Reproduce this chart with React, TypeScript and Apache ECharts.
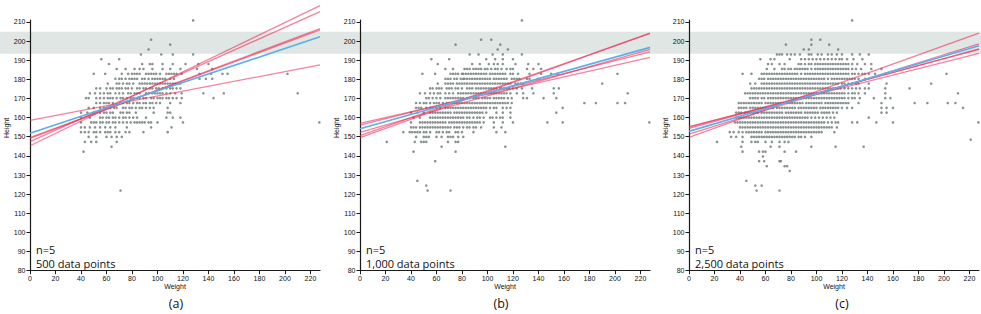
import React, { useEffect, useRef } from "react";
import * as echarts from "echarts";

// ---------- data (height cm -> list of weights kg) ----------
const X_MAX = 227.5;
const Y_MIN = 80;
const Y_MAX = 211;
const BAND = [193.4, 204.8];

const panelLetters = ["(a)", "(b)", "(c)"];
const pointLabels = ["500 data points", "1,000 data points", "2,500 data points"];
const nLabel = "n=5";

const rowsA: [number, number[]][] = [
  [210.8, [128]],
  [200.7, [95]],
  [198.1, [110]],
  [195.6, [93]],
  [193.0, [87, 103, 112, 128]],
  [190.5, [56, 70]],
  [188.0, [62, 88, 94, 96, 104, 112, 122, 132, 140]],
  [185.4, [68, 75, 82, 86, 89, 96, 104, 110, 118, 131, 143]],
  [182.9, [50, 59, 72, 77, 80, 82, 84, 86, 91, 93, 95, 97, 99, 102, 107, 109, 111, 113, 115, 119, 133, 142, 151, 155, 202]],
  [180.3, [67, 70, 72, 75, 78, 80, 82, 84, 88, 90, 93, 96, 98, 100, 102, 104, 106, 110, 113, 133, 138, 143]],
  [177.8, [61, 68, 70, 73, 76, 78, 81, 86, 88, 90, 92, 94, 96, 98, 100, 102, 104, 106, 108, 110, 112, 114, 116, 118]],
  [175.3, [52, 55, 60, 63, 65, 68, 70, 72, 75, 77, 80, 84, 86, 89, 91, 94, 96, 99, 101, 104, 107, 110, 112, 115, 118]],
  [172.7, [47, 51, 55, 58, 61, 63, 67, 70, 73, 77, 79, 82, 84, 86, 91, 93, 96, 98, 100, 102, 104, 107, 110, 114, 119, 136, 152, 210]],
  [170.2, [44, 46, 52, 55, 58, 61, 63, 65, 68, 71, 73, 76, 79, 81, 84, 86, 89, 91, 95, 97, 100, 102, 104, 107, 109, 112, 115, 119, 144]],
  [167.6, [52, 55, 58, 60, 62, 65, 71, 73, 76, 78, 81, 84, 86, 89, 91, 94, 96, 99, 102, 110, 118]],
  [165.1, [46, 50, 55, 58, 60, 63, 66, 68, 73, 75, 78, 80, 83, 86, 88, 91, 94, 97, 108]],
  [162.6, [40, 45, 50, 55, 58, 60, 63, 65, 71, 73, 76, 78, 83, 97, 108, 110]],
  [160.0, [40, 47, 55, 57, 60, 62, 65, 67, 70, 73, 75, 78, 81, 84, 91, 107, 112, 118]],
  [157.5, [40, 48, 50, 52, 55, 57, 60, 62, 65, 67, 70, 73, 76, 79, 82, 84, 86, 88, 90, 93, 95, 100, 120, 227]],
  [154.9, [40, 43, 47, 51, 55, 59, 63, 67, 76, 95, 111]],
  [152.4, [40, 43, 46, 50, 52, 55, 59, 61, 63, 67, 70, 75, 78, 89, 108]],
  [149.9, [46, 52, 60, 64, 68, 72]],
  [147.3, [43, 48, 52, 68]],
  [144.8, [64]],
  [142.2, [42]],
  [121.9, [71]],
];

const rowsB: [number, number[]][] = [
  [210.8, [127]],
  [200.7, [95, 103]],
  [198.1, [75, 110]],
  [195.6, [108, 116]],
  [193.0, [86, 93, 104, 112, 127]],
  [190.5, [56, 70, 99, 106, 112, 120]],
  [188.0, [61, 88, 94, 101, 105, 108, 112, 122, 132, 140]],
  [185.4, [67, 73, 82, 84, 86, 89, 91, 93, 95, 98, 100, 103, 106, 108, 111, 115, 118, 120, 131, 136, 142]],
  [182.9, [49, 59, 71, 73, 75, 77, 80, 81, 83, 85, 87, 89, 91, 93, 95, 97, 99, 102, 104, 106, 108, 110, 112, 114, 118, 120, 124, 133, 142, 150, 155, 202]],
  [180.3, [67, 69, 71, 74, 76, 79, 81, 82, 84, 86, 88, 90, 92, 94, 96, 98, 100, 102, 105, 107, 109, 111, 113, 115, 119, 121, 123, 125, 131, 133, 140]],
  [177.8, [61, 67, 69, 71, 73, 76, 78, 80, 82, 84, 86, 88, 90, 92, 94, 96, 98, 100, 102, 104, 106, 108, 110, 112, 114, 116, 118, 122, 124, 126, 128, 190]],
  [175.3, [55, 57, 60, 62, 64, 68, 70, 72, 75, 77, 80, 84, 86, 88, 91, 93, 95, 97, 99, 101, 103, 105, 107, 110, 111, 113, 115, 117, 120, 123, 127, 135, 152, 156]],
  [172.7, [47, 51, 55, 58, 61, 63, 67, 70, 73, 77, 79, 81, 83, 85, 87, 89, 91, 93, 95, 97, 99, 101, 103, 105, 107, 109, 111, 113, 115, 118, 123, 128, 136, 152, 210]],
  [170.2, [52, 54, 57, 60, 63, 67, 69, 71, 73, 75, 77, 79, 81, 84, 86, 89, 91, 93, 96, 98, 100, 102, 105, 107, 109, 111, 113, 116, 119, 128, 131, 144, 154]],
  [167.6, [44, 47, 50, 52, 55, 58, 60, 62, 65, 68, 70, 72, 74, 76, 78, 80, 82, 84, 86, 88, 90, 92, 94, 96, 98, 100, 102, 104, 106, 108, 110, 112, 114, 116, 119, 176, 185, 202, 208]],
  [165.1, [44, 46, 48, 52, 55, 57, 60, 63, 67, 69, 71, 73, 75, 77, 79, 81, 83, 85, 87, 89, 91, 93, 95, 97, 99, 102, 105, 107, 112, 115, 118, 159]],
  [162.6, [40, 45, 50, 55, 57, 59, 61, 63, 65, 67, 69, 71, 74, 76, 78, 80, 82, 84, 86, 88, 90, 92, 94, 96, 99, 107, 112, 118, 154]],
  [160.0, [42, 47, 55, 57, 59, 61, 63, 65, 67, 69, 71, 73, 75, 77, 79, 81, 84, 86, 89, 92, 94, 97, 102, 104, 107, 110, 112, 118]],
  [157.5, [40, 47, 49, 51, 53, 55, 57, 59, 61, 63, 65, 67, 70, 72, 74, 76, 78, 80, 82, 84, 86, 88, 90, 92, 94, 97, 105, 112, 120, 147, 159, 227]],
  [154.9, [40, 42, 44, 47, 49, 51, 53, 55, 57, 59, 61, 63, 65, 67, 69, 71, 74, 76, 78, 81, 84, 86, 89, 91, 95, 105, 111]],
  [152.4, [34, 39, 41, 43, 45, 47, 50, 52, 55, 60, 62, 65, 68, 70, 75, 77, 80, 89, 107, 114]],
  [149.9, [44, 50, 52, 54, 60, 64, 69, 71, 73, 77, 81]],
  [147.3, [21, 43, 48, 50, 52, 69, 75, 77]],
  [144.8, [64, 114]],
  [142.2, [42, 75]],
  [137.2, [59]],
  [127.0, [45]],
  [124.5, [52]],
  [121.9, [53, 71]],
];

const rowsC: [number, number[]][] = [
  [210.8, [128]],
  [200.7, [96, 103]],
  [198.1, [76, 96, 110]],
  [195.6, [90, 94, 117]],
  [193.0, [69, 71, 73, 77, 80, 83, 87, 94, 96, 101, 104, 109, 112, 116, 120, 128, 134, 141]],
  [190.5, [56, 64, 67, 79, 88, 91, 94, 97, 100, 103, 106, 109, 112, 115, 118, 120, 124, 129, 136]],
  [188.0, [62, 65, 71, 75, 86, 88, 91, 94, 96, 99, 101, 103, 105, 107, 109, 111, 113, 115, 117, 119, 121, 123, 125, 128, 132, 138, 143]],
  [185.4, [61, 67, 73, 75, 78, 80, 83, 85, 87, 89, 91, 93, 96, 99, 101, 103, 105, 107, 109, 111, 113, 115, 117, 119, 121, 123, 125, 128, 131, 135, 143, 151]],
  [182.9, [42, 49, 57, 59, 61, 63, 65, 67, 69, 71, 73, 75, 77, 79, 81, 83, 85, 88, 91, 93, 95, 97, 99, 101, 103, 105, 107, 109, 111, 113, 115, 117, 119, 121, 123, 125, 128, 130, 133, 136, 138, 141, 146, 154, 202]],
  [180.3, [55, 57, 59, 62, 64, 66, 68, 70, 72, 74, 76, 78, 80, 82, 84, 86, 88, 90, 92, 94, 96, 98, 100, 102, 104, 106, 109, 112, 114, 116, 118, 120, 122, 124, 126, 128, 130, 133, 138]],
  [177.8, [48, 52, 57, 59, 61, 63, 65, 67, 69, 71, 73, 75, 77, 79, 81, 83, 85, 87, 89, 91, 93, 95, 97, 99, 101, 103, 105, 107, 109, 111, 113, 115, 117, 120, 122, 125, 128, 131, 133, 141, 155, 190]],
  [175.3, [49, 51, 53, 55, 57, 59, 61, 63, 65, 67, 69, 71, 73, 75, 77, 79, 81, 83, 85, 87, 89, 91, 93, 95, 97, 99, 101, 103, 105, 107, 109, 111, 113, 115, 117, 119, 122, 125, 128, 131, 134, 138, 141, 154, 173]],
  [172.7, [44, 46, 48, 50, 52, 54, 56, 58, 60, 62, 64, 66, 68, 70, 72, 74, 76, 78, 80, 82, 84, 86, 88, 90, 92, 94, 96, 98, 100, 102, 104, 106, 108, 110, 112, 114, 116, 118, 120, 122, 125, 128, 130, 133, 138, 154, 211]],
  [170.2, [48, 50, 52, 54, 57, 59, 62, 64, 66, 68, 70, 72, 74, 76, 78, 80, 82, 84, 86, 88, 90, 92, 94, 96, 98, 100, 102, 104, 106, 108, 110, 112, 114, 116, 118, 120, 122, 125, 128, 130, 134, 145, 154, 158]],
  [167.6, [39, 41, 43, 45, 47, 49, 51, 53, 55, 57, 60, 62, 64, 66, 68, 70, 72, 74, 77, 79, 81, 83, 85, 87, 89, 92, 94, 96, 98, 100, 102, 104, 107, 109, 111, 113, 115, 117, 119, 121, 123, 125, 133, 151, 177, 187, 203, 209]],
  [165.1, [39, 41, 43, 45, 48, 50, 52, 54, 56, 58, 60, 62, 64, 66, 69, 71, 73, 75, 77, 79, 81, 83, 86, 88, 90, 92, 94, 96, 98, 100, 103, 105, 107, 109, 111, 113, 115, 117, 120, 124, 128, 151, 155, 160, 215]],
  [162.6, [37, 39, 41, 44, 46, 48, 50, 52, 54, 57, 59, 61, 63, 65, 67, 69, 71, 73, 76, 78, 80, 82, 84, 86, 88, 91, 93, 95, 97, 99, 101, 104, 106, 108, 110, 113, 116, 151, 155]],
  [160.0, [37, 39, 41, 43, 45, 47, 49, 51, 53, 55, 57, 59, 61, 63, 65, 67, 69, 71, 73, 75, 77, 79, 81, 83, 85, 87, 89, 91, 93, 96, 99, 102, 105, 108, 111, 114, 141]],
  [157.5, [36, 38, 40, 42, 44, 46, 48, 50, 52, 54, 56, 58, 60, 62, 64, 66, 68, 70, 72, 74, 76, 78, 80, 82, 84, 86, 88, 90, 92, 94, 96, 98, 100, 102, 104, 106, 109, 112, 115, 117, 128, 132, 147, 160, 227]],
  [154.9, [40, 42, 44, 46, 48, 50, 52, 54, 56, 58, 60, 62, 64, 66, 68, 70, 72, 74, 76, 78, 80, 82, 84, 86, 88, 90, 92, 94, 96, 98, 100, 102, 104, 106, 108, 110, 112, 116]],
  [152.4, [32, 35, 39, 42, 45, 47, 49, 51, 53, 55, 57, 60, 62, 64, 66, 68, 70, 72, 74, 76, 78, 80, 82, 84, 86, 88, 90, 92, 94, 96, 98, 100, 102, 104, 114]],
  [149.9, [33, 37, 42, 49, 51, 53, 55, 57, 59, 61, 63, 65, 67, 69, 71, 73, 75, 77, 79, 81, 83, 86, 88, 91, 96]],
  [148.5, [221]],
  [147.3, [22, 42, 49, 52, 54, 60, 65, 71, 75, 78]],
  [144.8, [41, 64, 71, 96, 115, 137]],
  [142.2, [42, 55, 58, 60, 75, 84]],
  [139.7, [58]],
  [137.2, [55, 59, 71, 72]],
  [134.6, [61, 75, 77]],
  [132.1, [79]],
  [127.0, [45]],
  [124.5, [52, 57]],
  [121.9, [53, 71]],
];

// regression lines: [height at weight 0, height at weight X_MAX]
const blueA = [151.8, 202.2];
const redA = [[145.3, 218.5], [147.4, 215.4], [149.2, 206.5], [149.5, 205.8], [158.6, 187.5]];
const blueB = [154.2, 196.7];
const redB = [[149.5, 204.1], [150.6, 204.0], [152.3, 195.7], [156.1, 194.3], [157.0, 191.5]];
const blueC = [152.8, 197.6];
const redC = [[149.7, 204.2], [151.4, 198.5], [154.4, 195.9], [155.0, 195.6], [155.3, 193.6]];

// ---------- layout ----------
const GRID_LEFTS = [30, 360, 689];
const GRID_W = 290;
const GRID_TOP = 20;
const GRID_H = 250.7;
const LETTER_X = [176, 501, 842];

const AXIS_COLOR = "#1a1a1a";
const TICK_FONT = "Liberation Sans, Arial, sans-serif";
const TEXT_FONT = "Open Sans, Noto Sans, sans-serif";

function toPoints(rows: [number, number[]][]) {
  const out: number[][] = [];
  rows.forEach(([h, ws]) => ws.forEach((w) => out.push([w, h])));
  return out;
}

export default function App() {
  const ref = useRef<HTMLDivElement>(null);

  useEffect(() => {
    if (!ref.current) return;
    const chart = echarts.init(ref.current, null, { renderer: "svg" });
    const panels = [
      { rows: rowsA, blue: blueA, red: redA },
      { rows: rowsB, blue: blueB, red: redB },
      { rows: rowsC, blue: blueC, red: redC },
    ];

    const grid = GRID_LEFTS.map((l) => ({ left: l, top: GRID_TOP, width: GRID_W, height: GRID_H }));
    const xAxis = GRID_LEFTS.map((_, i) => ({
      gridIndex: i,
      type: "value",
      min: 0,
      max: X_MAX,
      interval: 20,
      axisLine: { show: true, onZero: false, lineStyle: { color: AXIS_COLOR, width: 1.2 } },
      axisTick: { show: true, length: 3.5, lineStyle: { color: AXIS_COLOR, width: 1 } },
      axisLabel: { fontSize: 7, color: "#111", margin: 4, fontFamily: TICK_FONT, showMaxLabel: false },
      splitLine: { show: false },
    }));
    const yAxis = GRID_LEFTS.map((_, i) => ({
      gridIndex: i,
      type: "value",
      min: Y_MIN,
      max: Y_MAX,
      interval: 10,
      axisLine: { show: true, onZero: false, lineStyle: { color: AXIS_COLOR, width: 1.2 } },
      axisTick: { show: true, length: 3.5, lineStyle: { color: AXIS_COLOR, width: 1 } },
      axisLabel: { fontSize: 7, color: "#111", margin: 4.5, fontFamily: TICK_FONT, showMaxLabel: false },
      splitLine: { show: false },
    }));

    const series: any[] = [];
    panels.forEach((p, i) => {
      series.push({
        type: "scatter",
        xAxisIndex: i,
        yAxisIndex: i,
        data: toPoints(p.rows),
        symbol: "circle",
        symbolSize: 2.6,
        itemStyle: { color: "#6b7775" },
        silent: true,
        z: 2,
      });
      p.red.forEach((r) => {
        series.push({
          type: "line",
          xAxisIndex: i,
          yAxisIndex: i,
          data: [[0, r[0]], [X_MAX, r[1]]],
          showSymbol: false,
          symbol: "none",
          clip: false,
          lineStyle: { color: "#ee2f5a", width: 1.3, opacity: 0.6 },
          silent: true,
          z: 3,
        });
      });
      series.push({
        type: "line",
        xAxisIndex: i,
        yAxisIndex: i,
        data: [[0, p.blue[0]], [X_MAX, p.blue[1]]],
        showSymbol: false,
        symbol: "none",
        clip: false,
        lineStyle: { color: "#5ab0e8", width: 1.6 },
        silent: true,
        z: 4,
      });
    });

    chart.setOption({ animation: false, grid, xAxis, yAxis, series });

    const yTop = chart.convertToPixel({ gridIndex: 0 }, [0, BAND[1]])[1];
    const yBot = chart.convertToPixel({ gridIndex: 0 }, [0, BAND[0]])[1];

    const elements: any[] = [
      {
        type: "rect",
        shape: { x: 0, y: yTop, width: 981, height: yBot - yTop },
        style: { fill: "#dfe6e3" },
        z: -10,
        silent: true,
      },
    ];
    GRID_LEFTS.forEach((l, i) => {
      elements.push({
        type: "text",
        x: l - 24,
        y: 128,
        rotation: Math.PI / 2,
        style: { text: "Height", fontSize: 7, fontFamily: TICK_FONT, fill: "#111", textAlign: "center", textVerticalAlign: "middle" },
      });
      elements.push({
        type: "text",
        x: l + GRID_W / 2,
        y: 286,
        style: { text: "Weight", fontSize: 7, fontFamily: TICK_FONT, fill: "#111", textAlign: "center", textVerticalAlign: "middle" },
      });
      elements.push({
        type: "text",
        x: LETTER_X[i],
        y: 303,
        style: { text: panelLetters[i], fontSize: 12.5, fontFamily: TEXT_FONT, fill: "#111", textAlign: "center", textVerticalAlign: "middle" },
      });
      elements.push({
        type: "text",
        x: l + 6,
        y: 249,
        style: { text: nLabel, fontSize: 11, fontFamily: TEXT_FONT, fill: "#111", textAlign: "left", textVerticalAlign: "middle" },
      });
      elements.push({
        type: "text",
        x: l + 6,
        y: 263.5,
        style: { text: pointLabels[i], fontSize: 11, fontFamily: TEXT_FONT, fill: "#111", textAlign: "left", textVerticalAlign: "middle" },
      });
    });
    chart.setOption({ graphic: { elements } });

    return () => chart.dispose();
  }, []);

  return (
    <div
      ref={ref}
      style={{ position: "absolute", left: 0, top: 0, width: 981, height: 314, background: "#fff" }}
    />
  );
}
